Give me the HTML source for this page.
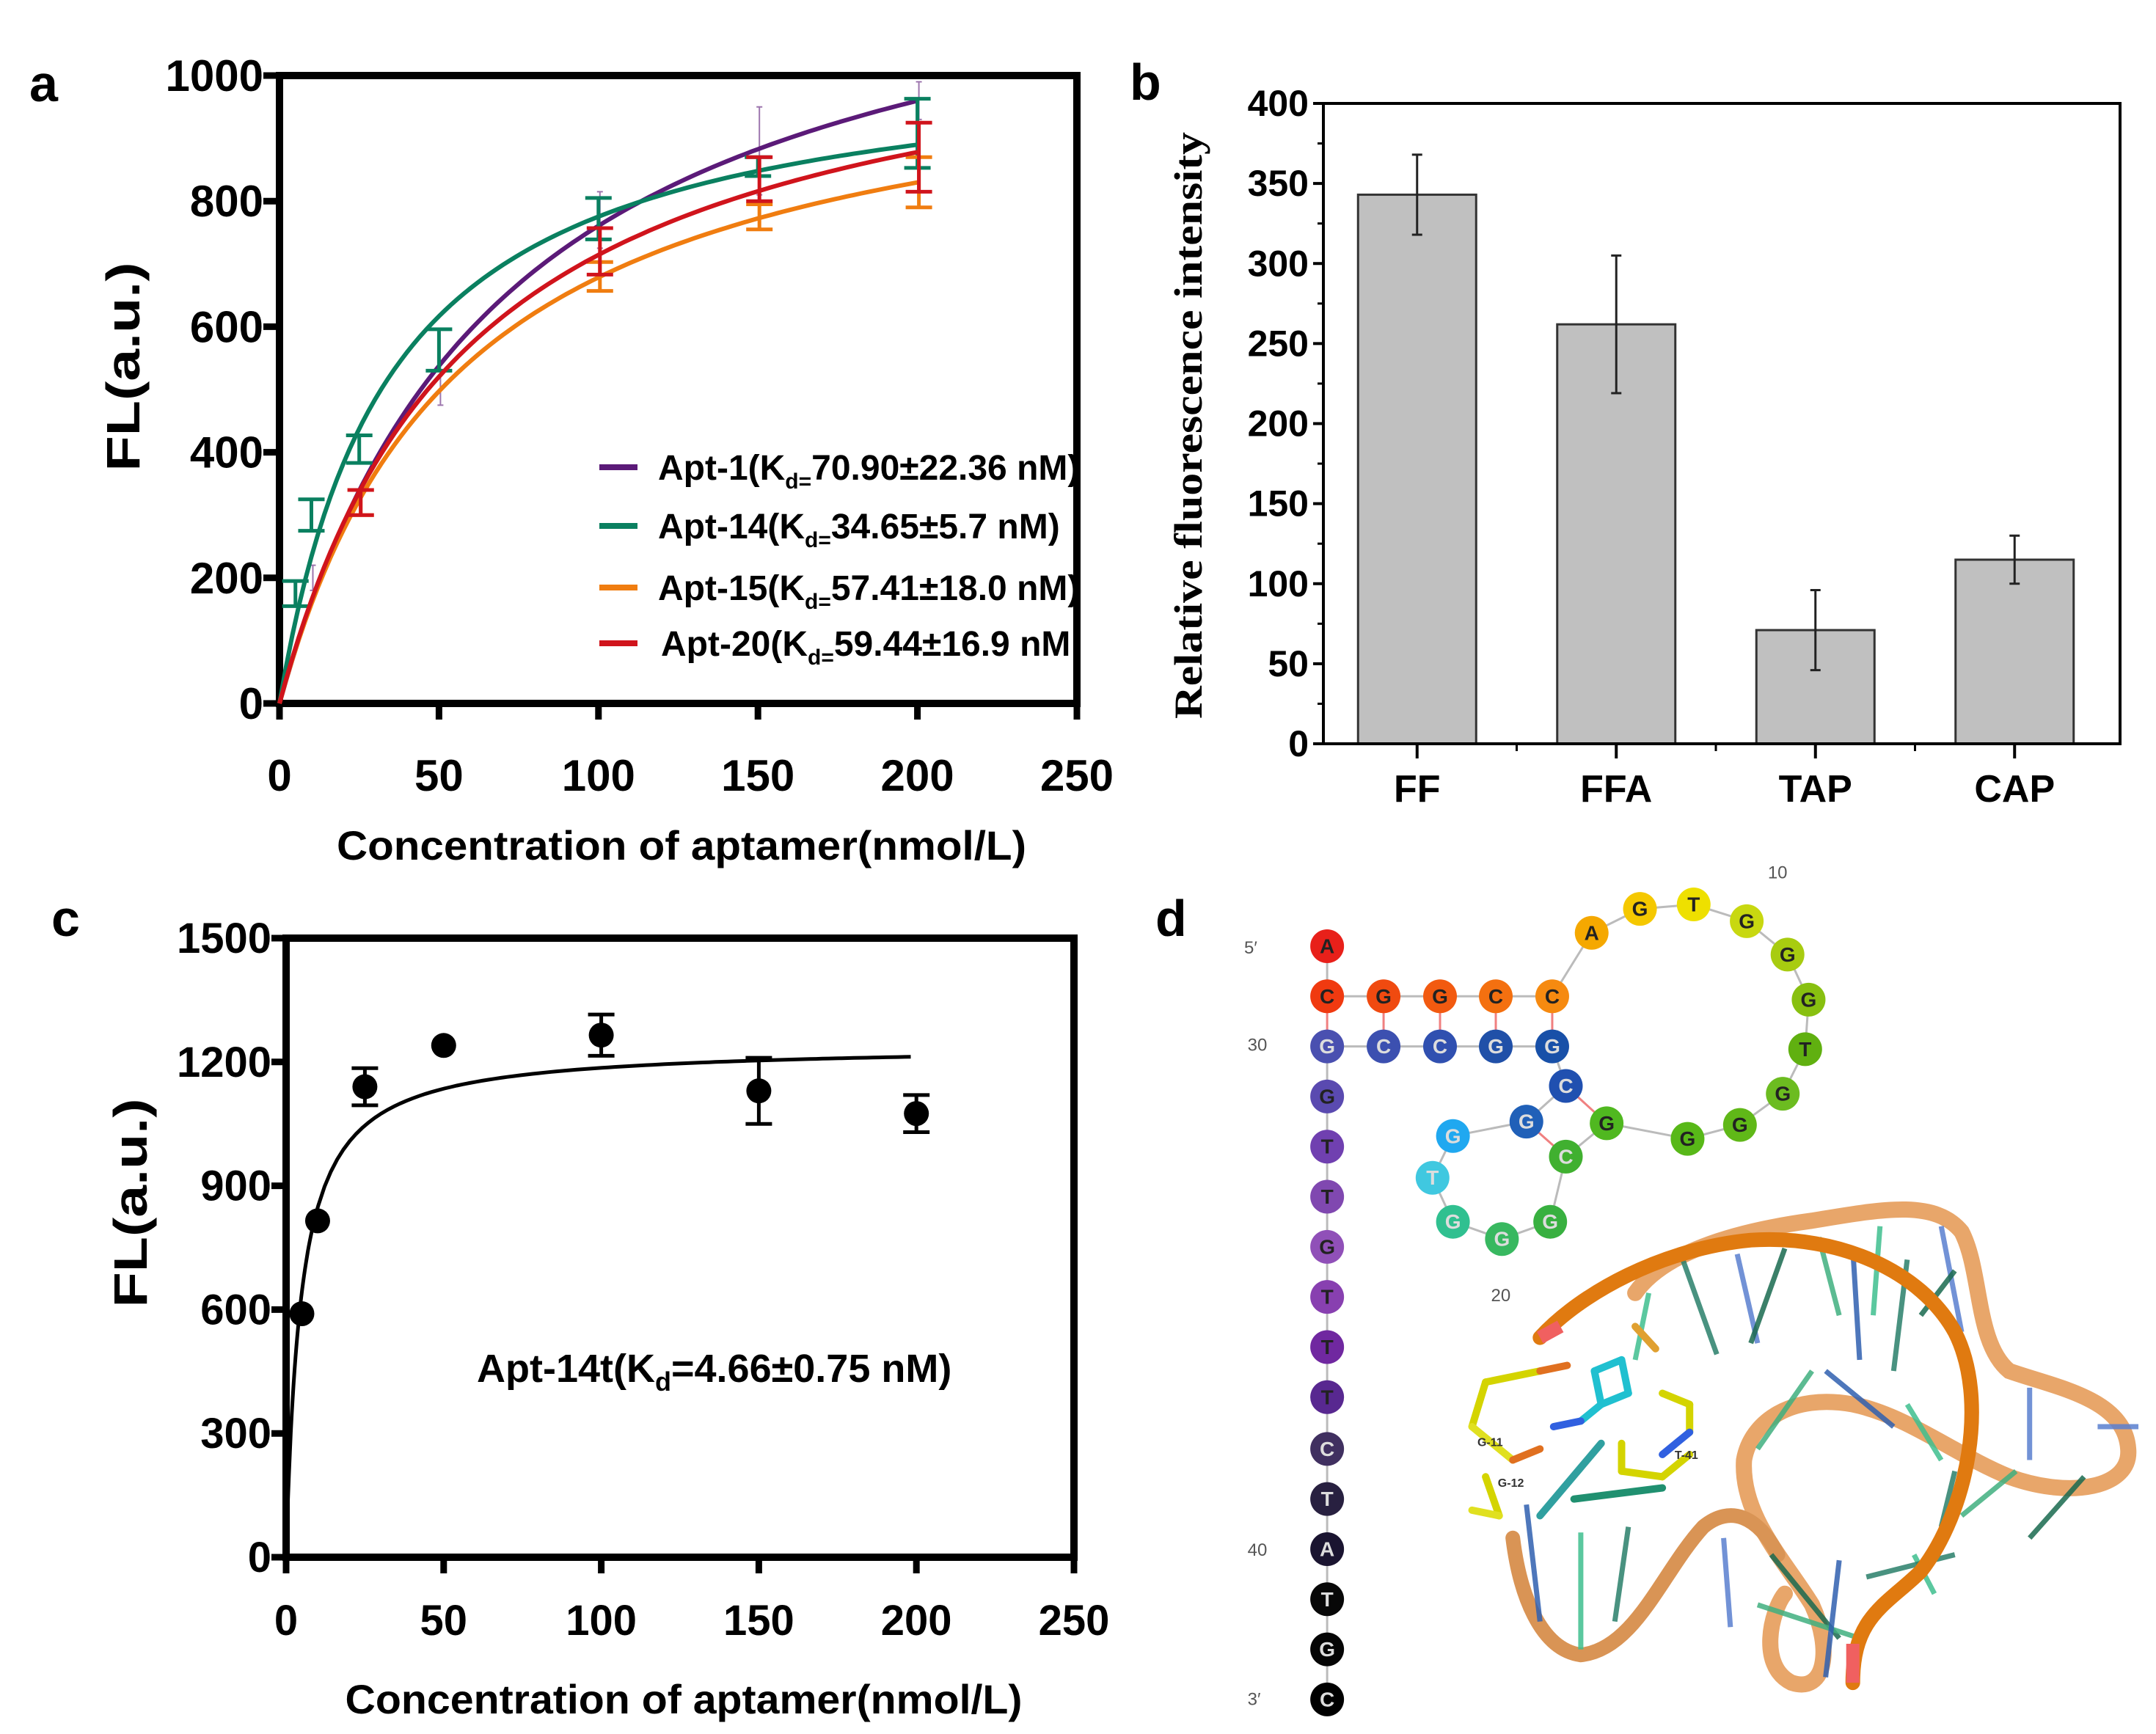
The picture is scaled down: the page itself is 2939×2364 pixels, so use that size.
<!DOCTYPE html>
<html><head><meta charset="utf-8"><style>
html,body{margin:0;padding:0;background:#fff;}
svg{display:block;}
.t{font-family:"Liberation Sans Narrow","Liberation Sans",sans-serif;font-weight:bold;fill:#000;}
.s{font-family:"Liberation Serif",serif;font-weight:bold;fill:#000;}
.nt{font-family:"Liberation Sans",sans-serif;font-size:28px;font-weight:bold;text-anchor:middle;dominant-baseline:central;}
.lab{font-family:"Liberation Sans",sans-serif;font-size:24px;fill:#555;}
</style></head><body>
<svg id="fig" width="2939" height="2364" viewBox="0 0 2939 2364" xmlns="http://www.w3.org/2000/svg">
<rect width="2939" height="2364" fill="#fff"/>
<text class="t" x="40" y="138" font-size="70">a</text>
<text class="t" x="1540" y="136" font-size="70">b</text>
<text class="t" x="70" y="1276" font-size="70">c</text>
<text class="t" x="1575" y="1276" font-size="70">d</text>
<g id="pa"></g>
<g id="pb"></g>
<g id="pc"></g>
<g id="pd"></g>
</svg>
<script>
// ---------- Panel A data ----------
const aXTicks=[0,50,100,150,200,250];
const aYTicks=[0,200,400,600,800,1000];
const aNames=["Apt-1(K","Apt-14(K","Apt-15(K","Apt-20(K"];
const aNameRest=["70.90±22.36 nM)","34.65±5.7 nM)","57.41±18.0 nM)","59.44±16.9 nM"];
const aColors=["#5b1a78","#0a8060","#f07d10","#d0141c"];
const aKd=[70.90,34.65,57.41,59.44];
const aBmax=[1300,1044,1068,1139];
const aErrX=[[10,50,100,150,200],[5,10,25,50,100,150,200],[25,100,150,200],[25,100,150,200]];
const aErrMean=[[200,510,770,880,960],[175,300,405,563,772,855,908],[320,680,775,830],[320,720,835,870]];
const aErrSd=[[20,35,45,70,30],[20,25,22,33,33,15,55],[20,23,20,40],[20,37,35,55]];
// ---------- Panel B data ----------
const bCats=["FF","FFA","TAP","CAP"];
const bVals=[343,262,71,115];
const bErr=[25,43,25,15];
const bYTicks=[0,50,100,150,200,250,300,350,400];
// ---------- Panel C data ----------
const cXTicks=[0,50,100,150,200,250];
const cYTicks=[0,300,600,900,1200,1500];
const cX=[5,10,25,50,100,150,200];
const cY=[590,815,1140,1240,1265,1130,1075];
const cSd=[0,0,45,0,50,80,45];
const cKd=4.66, cBmax=1241;

const NS="http://www.w3.org/2000/svg";
function mk(parent,tag,attrs){const e=document.createElementNS(NS,tag);for(const k in attrs)e.setAttribute(k,attrs[k]);parent.appendChild(e);return e;}

// ===== Panel A =====
(function(){
const g=document.getElementById('pa');
const L=381,R=1468,T=103,B=959;
const xs=v=>L+(v-0)/250*(R-L), ys=v=>B-(v/1000)*(B-T);
let e=mk(g,'path',{d:`M${L} ${T}H${R}V${B}H${L}Z`,fill:'none',stroke:'#000','stroke-width':10});

aXTicks.forEach(v=>{
 e=mk(g,'line',{x1:xs(v),x2:xs(v),y1:B,y2:B+22,stroke:'#000','stroke-width':9});
 
 e=mk(g,'text',{x:xs(v),y:1078,'text-anchor':'middle','font-size':60,class:'t'});e.textContent=v;
 
});
aYTicks.forEach(v=>{
 e=mk(g,'line',{x1:L-22,x2:L,y1:ys(v),y2:ys(v),stroke:'#000','stroke-width':9});
 
 e=mk(g,'text',{x:L-22,y:ys(v)+21,'text-anchor':'end','font-size':60,class:'t'});e.textContent=v;
 
});
e=mk(g,'text',{x:929,y:1172,'text-anchor':'middle','font-size':56,class:'t',textLength:940,lengthAdjust:'spacingAndGlyphs'});e.textContent='Concentration of aptamer(nmol/L)';

e=mk(g,'text',{x:0,y:0,'text-anchor':'middle','font-size':64,class:'t',transform:'translate(190,500) rotate(-90)',textLength:285,lengthAdjust:'spacingAndGlyphs'});e.textContent='FL(a.u.)';

for(let s=0;s<4;s++){
 let d='';for(let x=0;x<=200;x+=2){const y=aBmax[s]*x/(aKd[s]+x);d+=(x?'L':'M')+xs(x).toFixed(1)+' '+ys(y).toFixed(1);}
 e=mk(g,'path',{d:d,fill:'none',stroke:aColors[s],'stroke-width':6});
 
 aErrX[s].forEach((x,i)=>{
  const m=aErrMean[s][i],sd=aErrSd[s][i],cx=xs(x)+(s==1?0:2),w=s==0?4:18,sw=s==0?2:5;
  let eb=mk(g,'path',{d:`M${cx} ${ys(m-sd)}V${ys(m+sd)}M${cx-w} ${ys(m-sd)}h${2*w}M${cx-w} ${ys(m+sd)}h${2*w}`,stroke:aColors[s],'stroke-width':sw,fill:'none',opacity:s==0?0.6:1});
  
 });
 const ly=[637,717,801,877][s];
 e=mk(g,'line',{x1:817,x2:869,y1:ly,y2:ly,stroke:aColors[s],'stroke-width':8});
 
 const tx=mk(g,'text',{x:897+(s==3?4:0),y:ly+17,'font-size':48,class:'t'});
 
 const t1=mk(tx,'tspan',{});t1.textContent=aNames[s];
 const t2=mk(tx,'tspan',{'font-size':30,dy:12});t2.textContent='d=';
 const t3=mk(tx,'tspan',{dy:-12});t3.textContent=aNameRest[s];
}
})();

// ===== Panel B =====
(function(){
const g=document.getElementById('pb');
const L=1804,R=2890,T=141,B=1014;
const ys=v=>B-v/400*(B-T);
const step=(R-L)/4, xc=i=>L+step*(i+0.5)-8, bw=161;
let e;
bCats.forEach((c,i)=>{
 e=mk(g,'rect',{x:xc(i)-bw/2,y:ys(bVals[i]),width:bw,height:B-ys(bVals[i]),fill:'#c0c0c0',stroke:'#333','stroke-width':3});
 
 const lo=ys(bVals[i]-bErr[i]),hi=ys(bVals[i]+bErr[i]);
 e=mk(g,'path',{d:`M${xc(i)} ${lo}V${hi}M${xc(i)-7} ${lo}h14M${xc(i)-7} ${hi}h14`,stroke:'#222','stroke-width':3,fill:'none'});
 
 e=mk(g,'line',{x1:xc(i),x2:xc(i),y1:B,y2:B+20,stroke:'#000','stroke-width':4});
 
 e=mk(g,'text',{x:xc(i),y:1093,'text-anchor':'middle','font-size':52,class:'t'});e.textContent=c;
 
});
for(let i=1;i<4;i++){e=mk(g,'line',{x1:L+step*i-8,x2:L+step*i-8,y1:B,y2:B+10,stroke:'#000','stroke-width':3});}
e=mk(g,'path',{d:`M${L} ${T}H${R}V${B}H${L}Z`,fill:'none',stroke:'#000','stroke-width':4});

bYTicks.forEach(v=>{
 e=mk(g,'line',{x1:L-14,x2:L,y1:ys(v),y2:ys(v),stroke:'#000','stroke-width':4});
 
 if(v<400){
 e=mk(g,'line',{x1:L-8,x2:L,y1:ys(v+25),y2:ys(v+25),stroke:'#000','stroke-width':3});
 }
 e=mk(g,'text',{x:L-20,y:ys(v)+17,'text-anchor':'end','font-size':50,class:'t'});e.textContent=v;
 
});
e=mk(g,'text',{x:0,y:0,'text-anchor':'middle','font-size':54,class:'s',transform:'translate(1638,580) rotate(-90)',textLength:800,lengthAdjust:'spacingAndGlyphs'});e.textContent='Relative fluorescence intensity';

})();

// ===== Panel C =====
(function(){
const g=document.getElementById('pc');
const L=390,R=1464,T=1279,B=2123;
const xs=v=>L+v/250*(R-L), ys=v=>B-v/1500*(B-T);
let e=mk(g,'path',{d:`M${L} ${T}H${R}V${B}H${L}Z`,fill:'none',stroke:'#000','stroke-width':10});

cXTicks.forEach(v=>{
 e=mk(g,'line',{x1:xs(v),x2:xs(v),y1:B,y2:B+22,stroke:'#000','stroke-width':9});
 
 e=mk(g,'text',{x:xs(v),y:2229,'text-anchor':'middle','font-size':58,class:'t'});e.textContent=v;
 
});
cYTicks.forEach(v=>{
 e=mk(g,'line',{x1:L-20,x2:L,y1:ys(v),y2:ys(v),stroke:'#000','stroke-width':9});
 
 e=mk(g,'text',{x:L-20,y:ys(v)+20,'text-anchor':'end','font-size':58,class:'t'});e.textContent=v;
 
});
e=mk(g,'text',{x:932,y:2336,'text-anchor':'middle','font-size':56,class:'t',textLength:923,lengthAdjust:'spacingAndGlyphs'});e.textContent='Concentration of aptamer(nmol/L)';

e=mk(g,'text',{x:0,y:0,'text-anchor':'middle','font-size':64,class:'t',transform:'translate(200,1640) rotate(-90)',textLength:285,lengthAdjust:'spacingAndGlyphs'});e.textContent='FL(a.u.)';

let d='';for(let x=0.3;x<=200;x+=(x<10?0.3:2)){const y=cBmax*x/(cKd+x);d+=(d?'L':'M')+xs(x).toFixed(1)+' '+ys(y).toFixed(1);}
e=mk(g,'path',{d:d,fill:'none',stroke:'#000','stroke-width':5});

cX.forEach((x,i)=>{
 if(cSd[i]>0){const lo=ys(cY[i]-cSd[i]),hi=ys(cY[i]+cSd[i]);
 e=mk(g,'path',{d:`M${xs(x)} ${lo}V${hi}M${xs(x)-18} ${lo}h36M${xs(x)-18} ${hi}h36`,stroke:'#000','stroke-width':5,fill:'none'});
 }
 e=mk(g,'circle',{cx:xs(x),cy:ys(cY[i]),r:17,fill:'#000'});
 
});
const tx=mk(g,'text',{x:650,y:1884,'font-size':54,class:'t'});

let t=mk(tx,'tspan',{});t.textContent='Apt-14t(K';
t=mk(tx,'tspan',{'font-size':36,dy:12});t.textContent='d';
t=mk(tx,'tspan',{dy:-12});t.textContent='=4.66±0.75 nM)';
})();

// ===== Panel D (structure illustration) =====
(function(){
const g=document.getElementById('pd');
const X=x=>1506+x*0.927, Y=y=>1186+y*0.759;
const P=s=>s.replace(/(-?\d+(?:\.\d+)?) (-?\d+(?:\.\d+)?)/g,(m,a,b)=>X(+a).toFixed(1)+' '+Y(+b).toFixed(1));
let e;
const sticks=[[800,760,780,880],[850,700,900,870],[930,690,960,850],[1000,680,950,850],[1050,660,1080,800],[1100,680,1110,880],[1140,640,1130,800],[1180,700,1160,900],[1230,640,1260,830],[1250,720,1200,800],[1040,900,960,1040],[1060,900,1160,1000],[1180,960,1230,1060],[1250,1080,1230,1180],[1360,930,1360,1060],[1440,1090,1360,1200],[1340,1080,1260,1160],[620,1140,640,1350],[700,1190,700,1400],[770,1180,750,1350],[910,1200,920,1360],[980,1230,1080,1380],[960,1320,1110,1380],[1080,1240,1060,1450],[1190,1230,1220,1300],[1250,1230,1120,1270],[1460,1000,1520,1000]];
const stickCol=['#3fbf8f','#2a7f6a','#5a7fd0','#1a6a50','#40b080','#3060b0'];
const ribbonLight="M780 760 C820 690 920 650 1040 630 C1140 610 1220 590 1260 650 C1290 720 1280 850 1330 900 C1400 930 1500 950 1505 1040 C1510 1110 1420 1130 1330 1090 C1250 1050 1180 980 1100 960 C1010 940 950 990 940 1060 C935 1160 1000 1240 1040 1320 C1070 1400 1060 1480 1010 1460 C960 1430 980 1330 1000 1300";
const ribbonLight2="M600 1200 C610 1300 640 1400 700 1410 C780 1400 820 1260 880 1180 C920 1140 960 1160 990 1230";
e=mk(g,'path',{d:P(ribbonLight),fill:'none',stroke:'#e8a66a','stroke-width':22,'stroke-linecap':'round'});

e=mk(g,'path',{d:P(ribbonLight2),fill:'none',stroke:'#d99455','stroke-width':20,'stroke-linecap':'round'});

sticks.forEach((s,i)=>{e=mk(g,'line',{x1:X(s[0]),y1:Y(s[1]),x2:X(s[2]),y2:Y(s[3]),stroke:stickCol[i%6],'stroke-width':7,opacity:0.85});});
e=mk(g,'path',{d:P("M640 840 C700 760 820 680 950 665 C1080 655 1200 720 1250 830 C1300 950 1270 1150 1200 1260 C1150 1320 1100 1340 1100 1460"),fill:'none',stroke:'#e07a10','stroke-width':20,'stroke-linecap':'round'});

e=mk(g,'line',{x1:X(1100),y1:Y(1390),x2:X(1100),y2:Y(1460),stroke:'#f06060','stroke-width':18});

e=mk(g,'line',{x1:X(640),y1:Y(840),x2:X(670),y2:Y(820),stroke:'#f06060','stroke-width':18});

const lig=[[560,920,640,900],[640,900,680,890],[560,920,540,1000],[540,1000,600,1060],[600,1060,640,1040],[560,1090,580,1160],[580,1160,540,1150],[720,900,760,880],[760,880,770,940],[770,940,730,960],[730,960,720,900],[730,960,700,990],[700,990,660,1000],[780,820,810,860],[820,940,860,960],[860,960,860,1010],[860,1010,820,1050],[760,1030,760,1080],[760,1080,820,1090],[820,1090,860,1050],[640,1160,730,1030],[690,1130,820,1110]];
const ligCol=['#d4d400','#e07020','#d4d400','#e0e020','#e07020','#d4d400','#e0e020','#20c0d0','#20c0d0','#20c0d0','#20c0d0','#20c0d0','#3060e0','#e0a030','#d4d400','#d4d400','#3060e0','#d4d400','#d4d400','#d4d400','#30a0a0','#209070'];
lig.forEach((s,i)=>{e=mk(g,'line',{x1:X(s[0]),y1:Y(s[1]),x2:X(s[2]),y2:Y(s[3]),stroke:ligCol[i],'stroke-width':10,'stroke-linecap':'round'});});
[['G-11',548,1035],['G-12',578,1108],['T-41',838,1058]].forEach(l=>{e=mk(g,'text',{x:X(l[1]),y:Y(l[2]),'font-size':16,'font-family':'Liberation Sans',fill:'#333','font-weight':'bold'});e.textContent=l[0];});
const nts=[['A',327,137,'#e8201a'],['C',327,227,'#f03a10'],['G',410,227,'#f04a10'],['G',493,227,'#f25a10'],['C',575,227,'#f47010'],['C',658,227,'#f68a10'],
['A',716,113,'#f5a800'],['G',787,70,'#f5c800'],['T',866,62,'#eee000'],['G',944,92,'#c8d810'],['G',1004,152,'#a8cc10'],['G',1035,233,'#88c010'],['T',1030,322,'#60b010'],['G',997,402,'#6cbc20'],['G',934,458,'#60b818'],['G',857,483,'#58b818'],['G',738,455,'#50b820'],
['C',678,388,'#2050b0'],['G',620,452,'#2060b8'],['C',678,515,'#40b030'],['G',655,632,'#38b040'],['G',584,663,'#38b860'],['G',512,632,'#30c090'],['T',482,553,'#40c8e0'],['G',512,478,'#20a8f0'],
['G',658,317,'#1850a8'],['G',575,317,'#2050a8'],['C',493,317,'#3050b0'],['C',410,317,'#3c50b0'],['G',327,317,'#4a50b0'],
['G',327,407,'#5a4ab0'],['T',327,497,'#7040b0'],['T',327,587,'#8048b0'],['G',327,677,'#9050b8'],['T',327,767,'#8840b0'],['T',327,857,'#7028a0'],['T',327,947,'#582890'],['C',327,1040,'#403060'],['T',327,1130,'#282040'],['A',327,1220,'#1a1430'],['T',327,1310,'#080808'],['G',327,1400,'#050505'],['C',327,1490,'#000']];
let bd='';
const path1=[0,1,2,3,4,5,6,7,8,9,10,11,12,13,14,15,16,19,20,21,22,23,24,18,17,25,26,27,28,29,30,31,32,33,34,35,36,37,38,39,40,41,42];
path1.forEach((k,i)=>{bd+=(i?'L':'M')+X(nts[k][1])+' '+Y(nts[k][2]);});
e=mk(g,'path',{d:bd,fill:'none',stroke:'#bbb','stroke-width':3});

[[1,29],[2,28],[3,27],[4,26],[5,25],[17,16],[18,19]].forEach(p=>{e=mk(g,'line',{x1:X(nts[p[0]][1]),y1:Y(nts[p[0]][2]),x2:X(nts[p[1]][1]),y2:Y(nts[p[1]][2]),stroke:'#f08080','stroke-width':3});});
nts.forEach(n=>{
 e=mk(g,'circle',{cx:X(n[1]),cy:Y(n[2]),r:23,fill:n[3]});
 
 e=mk(g,'text',{x:X(n[1]),y:Y(n[2]),class:'nt',fill:(/^#[0-4]/.test(n[3])||n[3]=='#000')?'#ddd':'#222'});e.textContent=n[0];
 
});
[["5′",205,150],["30",210,325],["40",210,1232],["3′",210,1500],["10",975,15],["20",568,775]].forEach(l=>{e=mk(g,'text',{x:X(l[1]),y:Y(l[2]),class:'lab'});e.textContent=l[0];});
})();
</script>
</body></html>
